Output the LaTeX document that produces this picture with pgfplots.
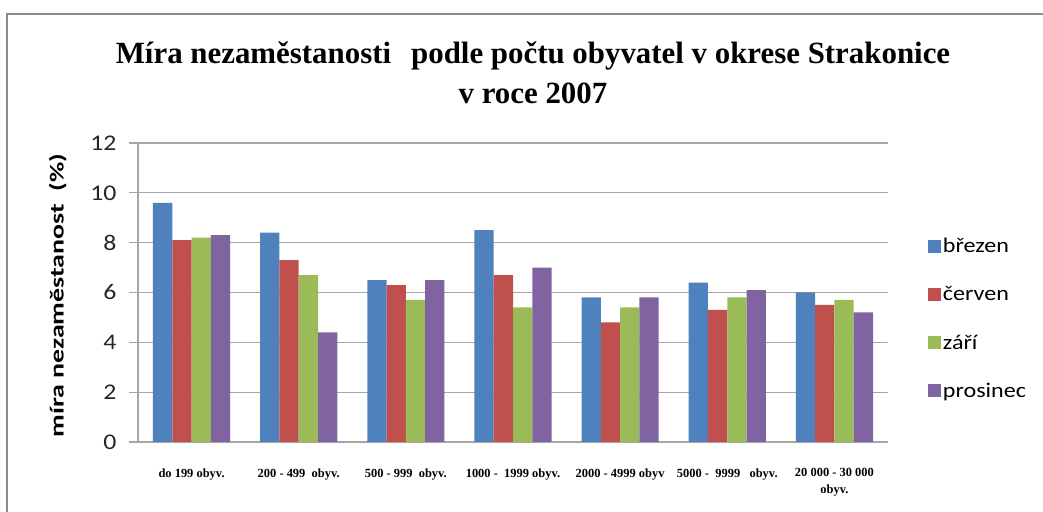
\documentclass[border=0pt]{standalone}
\usepackage{pgfplots}
\pgfplotsset{compat=1.18}
\usepackage{pgfplotstable}
\usepackage{fontspec}
\setmainfont{Liberation Serif}
\newfontfamily\calibri[FakeStretch=1.15]{Carlito}
\newfontfamily\calibriB{Carlito}
\definecolor{cBlue}{HTML}{4F81BD}
\definecolor{cRed}{HTML}{C0504D}
\definecolor{cGreen}{HTML}{9BBB59}
\definecolor{cPurple}{HTML}{8064A2}
\definecolor{cGrid}{HTML}{A6A6A6}
\definecolor{cFrame}{HTML}{8C8C8C}

\pgfplotstableread{
x brezen cerven zari prosinec
0 9.6 8.1 8.2 8.3
1 8.4 7.3 6.7 4.4
2 6.5 6.3 5.7 6.5
3 8.5 6.7 5.4 7.0
4 5.8 4.8 5.4 5.8
5 6.4 5.3 5.8 6.1
6 6.0 5.5 5.7 5.2
}\datatable

\begin{document}
\begin{tikzpicture}
\path[use as bounding box] (0bp,0bp) rectangle (1043bp,512bp);
\draw[color=cFrame, line width=1.5bp] (7bp,0bp) -- (7bp,498bp) -- (1043bp,498bp);
\node[font=\bfseries\fontsize{31}{36}\selectfont, anchor=base] at (533bp,448bp) {Míra nezaměstanosti\hspace{20bp}podle počtu obyvatel v okrese Strakonice};
\node[font=\bfseries\fontsize{31}{36}\selectfont, anchor=base] at (533bp,408bp) {v roce 2007};
\begin{axis}[
  at={(138bp,70bp)}, anchor=south west,
  scale only axis, width=750bp, height=299bp,
  xmin=-0.5, xmax=6.5, ymin=0, ymax=12,
  ytick={0,2,...,12},
  xtick={0,...,6},
  xticklabels={do 199 obyv., 200 - 499\ \ obyv., 500 - 999\ \ obyv., 1000 -\ \ 1999 obyv., 2000 - 4999 obyv, 5000 -\ \ 9999\ \ \ obyv., {20 000 - 30 000\\obyv.}},
  axis x line*=bottom, axis y line*=left,
  axis line style={cGrid, line width=1.2bp},
  ymajorgrids, grid style={cGrid, line width=1.2bp},
  tick align=outside, major tick length=9bp,
  ytick style={cGrid, line width=1.2bp},
  xtick style={draw=none},
  /pgf/number format/assume math mode=true,
  yticklabel style={font=\calibri\fontsize{22.5}{24}\selectfont, color=black!85, xshift=-9bp},
  xticklabel style={font=\bfseries\fontsize{12.5}{17}\selectfont, align=center, anchor=north, yshift=-14bp},
  ylabel={\scalebox{1.4}[1]{míra nezaměstanost\ \ (\%)}},
  ylabel style={at={(axis description cs:-0.107,0.49)}, anchor=center, rotate=0, font=\calibriB\bfseries\fontsize{20}{22}\selectfont},
  ybar=0pt, bar width=19.3bp,
  legend style={at={(1.053,0.413)}, anchor=west, draw=none, fill=none, font=\calibri\fontsize{21}{24}\selectfont, row sep=28.5bp, inner sep=0pt},
  legend cell align=left,
  legend image code/.code={\draw[#1, draw=none] (0bp,-6.5bp) rectangle (13bp,6.5bp);},
]
\addplot[fill=cBlue, draw=none] table[x=x, y=brezen] {\datatable};
\addplot[fill=cRed, draw=none] table[x=x, y=cerven] {\datatable};
\addplot[fill=cGreen, draw=none] table[x=x, y=zari] {\datatable};
\addplot[fill=cPurple, draw=none] table[x=x, y=prosinec] {\datatable};
\legend{březen, červen, září, prosinec}
\end{axis}
\end{tikzpicture}
\end{document}
